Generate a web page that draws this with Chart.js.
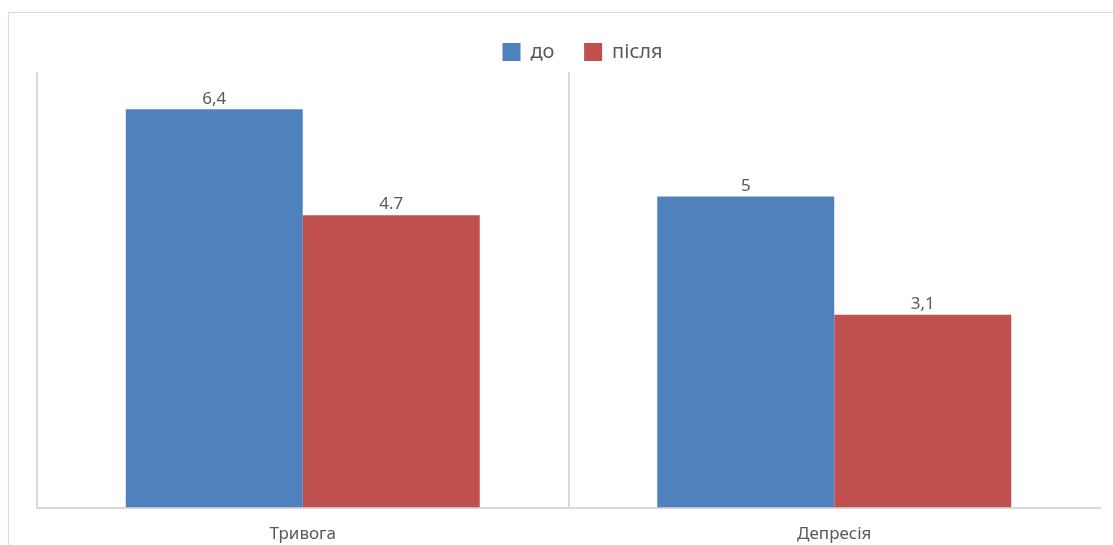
<!DOCTYPE html>
<html>
<head>
<meta charset="utf-8">
<script src="https://cdn.jsdelivr.net/npm/chart.js@4.4.1/dist/chart.umd.min.js"></script>
<style>
    html, body { margin: 0; padding: 0; background: #fff; overflow: hidden; }
    #wrap { position: relative; width: 1113px; height: 545px; overflow: hidden; }
    #frame {
        position: absolute; left: 8px; top: 12px; width: 1120px; height: 560px;
        border: 1px solid #dcdcdc; box-shadow: 0 1px 2px rgba(0, 0, 0, 0.06);
    }
    #chart { position: absolute; left: 0; top: 0; }
</style>
</head>
<body>
<div id="wrap">
    <div id="frame"></div>
    <canvas id="chart" width="1113" height="560"></canvas>
</div>
<script>
const categories = ['Тривога', 'Депресія'];
const seriesNames = ['до', 'після'];
const beforeValues = [6.4, 5];
const afterValues = [4.7, 3.1];
const beforeLabels = ['6,4', '5'];
const afterLabels = ['4.7', '3,1'];
const seriesColors = ['#4f81bd', '#c0504d'];
const textColor = '#595959';
const gridColor = '#d9d9d9';
const fontFamily = "'Noto Sans', 'Open Sans', sans-serif";

// writes the value over each bar
const valueLabels = {
    id: 'valueLabels',
    afterDatasetsDraw(chart) {
        const ctx = chart.ctx;
        ctx.save();
        ctx.font = '17px ' + fontFamily;
        ctx.fillStyle = textColor;
        ctx.textAlign = 'center';
        ctx.textBaseline = 'bottom';
        chart.data.datasets.forEach((ds, di) => {
            chart.getDatasetMeta(di).data.forEach((bar, i) => {
                ctx.fillText(ds.valueText[i], bar.x, bar.y - 2);
            });
        });
        ctx.restore();
    }
};

// legend sits a little right of the plot centre
const legendNudge = {
    id: 'legendNudge',
    afterLayout(chart) {
        chart.legend.left += 14;
        chart.legend.right += 14;
    }
};

new Chart(document.getElementById('chart'), {
    type: 'bar',
    data: {
        labels: categories,
        datasets: [{
            label: seriesNames[0],
            data: beforeValues,
            valueText: beforeLabels,
            backgroundColor: seriesColors[0],
            categoryPercentage: 0.666,
            barPercentage: 1
        }, {
            label: seriesNames[1],
            data: afterValues,
            valueText: afterLabels,
            backgroundColor: seriesColors[1],
            categoryPercentage: 0.666,
            barPercentage: 1
        }]
    },
    options: {
        responsive: false,
        animation: false,
        layout: {
            padding: { left: 37, right: 13, top: 28, bottom: 0 }
        },
        plugins: {
            legend: {
                display: true,
                position: 'top',
                labels: {
                    boxWidth: 18,
                    boxHeight: 18,
                    padding: 14,
                    color: textColor,
                    font: { family: fontFamily, size: 20 },
                    generateLabels(chart) {
                        const items = Chart.defaults.plugins.legend.labels.generateLabels(chart);
                        items[0].text += '\u00a0\u00a0\u00a0';
                        return items;
                    }
                }
            },
            tooltip: { enabled: false }
        },
        scales: {
            x: {
                grid: {
                    offset: true,
                    drawTicks: false,
                    lineWidth: 2,
                    color: (c) => c.type === 'tick' ? gridColor : 'rgba(0,0,0,0)'
                },
                border: { display: true, color: gridColor, width: 2 },
                ticks: {
                    padding: 16,
                    color: textColor,
                    font: { family: fontFamily, size: 17 }
                }
            },
            y: {
                display: false,
                min: 0,
                max: 7
            }
        }
    },
    plugins: [valueLabels, legendNudge]
});
</script>
</body>
</html>
